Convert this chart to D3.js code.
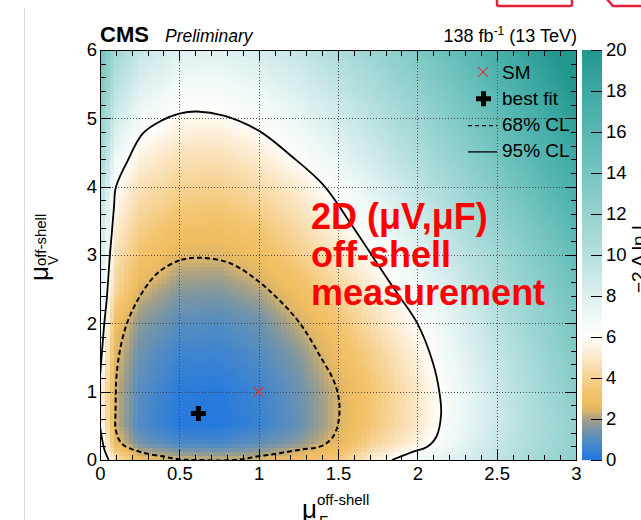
<!DOCTYPE html>
<html>
<head>
<meta charset="utf-8">
<script src="https://cdn.jsdelivr.net/npm/d3@7"></script>
<style>
  html, body { margin: 0; padding: 0; background: #fff; }
  svg { display: block; font-family: "Liberation Sans", Arial, Helvetica, sans-serif; }
</style>
</head>
<body>
<svg id="chart" width="641" height="520"></svg>
<script>
// ---- likelihood scan: -2 Δ ln L on a (μF, μV) grid ----
const muFNodes = [0, 0.1, 0.25, 0.5, 0.75, 1, 1.25, 1.5, 1.75, 2, 2.25, 2.5, 2.75, 3];
const muVNodes = [0, 0.25, 0.5, 1, 1.5, 2, 2.5, 3, 3.5, 4, 4.5, 5, 5.5, 6];
// one row per μV node, one value per μF node
const nllRows = [
  [7.5, 4.6, 2.8, 2.35, 2.3, 2.4, 2.9, 3.6, 5.5, 6.8, 8.0, 9.5, 11.0, 12.5],
  [6.7, 2.7, 1.4, 0.8, 0.75, 1.1, 1.7, 2.6, 4.2, 5.5, 7.3, 9.0, 10.7, 12.2],
  [6.0, 2.3, 0.9, 0.15, 0.1, 0.5, 1.2, 2.35, 3.7, 5.0, 7.0, 8.8, 10.5, 12.0],
  [5.6, 2.3, 1.0, 0.25, 0.15, 0.55, 1.3, 2.35, 3.6, 5.0, 6.9, 8.8, 10.8, 12.8],
  [6.5, 2.5, 1.3, 0.55, 0.5, 0.9, 1.6, 2.8, 4.0, 5.4, 7.3, 9.2, 11.2, 13.2],
  [7.3, 2.9, 1.7, 1.05, 0.95, 1.3, 2.25, 3.3, 4.7, 6.0, 7.8, 9.8, 11.8, 13.8],
  [7.6, 4.2, 2.45, 1.7, 1.65, 2.1, 3.0, 4.1, 5.4, 6.8, 8.5, 10.4, 12.4, 14.4],
  [8.5, 4.7, 3.3, 2.5, 2.45, 2.9, 3.8, 4.9, 6.2, 7.7, 9.4, 11.2, 13.2, 15.2],
  [9.3, 5.4, 4.0, 3.25, 3.2, 3.6, 4.5, 5.6, 7.0, 8.6, 10.3, 12.2, 14.2, 16.2],
  [10.2, 6.0, 4.7, 4.0, 3.95, 4.4, 5.2, 6.5, 7.9, 9.5, 11.3, 13.2, 15.2, 17.2],
  [11.2, 7.3, 5.6, 4.8, 4.75, 5.3, 6.3, 7.5, 8.9, 10.5, 12.3, 14.2, 16.2, 18.2],
  [12.3, 8.6, 6.9, 5.8, 5.8, 6.4, 7.3, 8.5, 9.9, 11.5, 13.3, 15.2, 17.2, 19.2],
  [13.4, 9.9, 8.1, 6.9, 6.8, 7.4, 8.3, 9.5, 10.9, 12.5, 14.3, 16.2, 18.2, 20.2],
  [14.5, 11.2, 9.3, 8.0, 7.9, 8.4, 9.3, 10.5, 11.9, 13.5, 15.3, 17.2, 19.2, 21.0]
];

// 68% CL contour (closed), [μF, μV]
const contour68 = [
  [0.63, 2.96], [0.50, 2.92], [0.36, 2.73], [0.25, 2.39], [0.17, 2.00], [0.126, 1.61],
  [0.105, 1.25], [0.10, 1.00], [0.098, 0.70], [0.10, 0.44], [0.137, 0.24], [0.25, 0.12],
  [0.40, 0.05], [0.50, 0.01], [0.60, 0.0], [0.85, 0.0], [0.99, 0.05], [1.13, 0.10],
  [1.26, 0.15], [1.39, 0.20], [1.45, 0.29], [1.49, 0.44], [1.51, 0.78], [1.48, 1.12],
  [1.39, 1.51], [1.26, 2.00], [1.13, 2.34], [0.99, 2.63], [0.82, 2.88]
];
// 95% CL contour, main branch and the branch cutting the origin corner
const contour95 = [
  [0.0, 1.22], [0.013, 1.60], [0.027, 2.00], [0.042, 2.34], [0.063, 3.02], [0.074, 3.31],
  [0.088, 3.70], [0.10, 3.99], [0.17, 4.36], [0.27, 4.78], [0.39, 4.97], [0.50, 5.07],
  [0.61, 5.10], [0.78, 5.04], [1.00, 4.82], [1.20, 4.46], [1.41, 4.02], [1.58, 3.46],
  [1.76, 2.83], [1.87, 2.45], [2.00, 2.00], [2.10, 1.41], [2.14, 0.98], [2.15, 0.68],
  [2.12, 0.34], [2.06, 0.19], [1.97, 0.12], [1.84, 0.0]
];
const contour95Corner = [[0.0, 0.49], [0.012, 0.32], [0.028, 0.15], [0.055, 0.0]];

const bestFit = [0.62, 0.68];
const smPoint = [1, 1];

const xTicks = [0, 0.5, 1, 1.5, 2, 2.5, 3];
const yTicks = [0, 1, 2, 3, 4, 5, 6];
const zTicks = [0, 2, 4, 6, 8, 10, 12, 14, 16, 18, 20];

// palette: value stops and colours
const zStops  = [0, 0.5, 1, 1.5, 2, 2.4, 2.8, 3.4, 4, 5, 6, 7, 8, 10, 12, 14, 16, 18, 20];
const zColors = ["#1f77e0", "#3a82d2", "#568dc0", "#7895a6", "#a8a184", "#dcb56a",
                 "#efbd60", "#f3c570", "#f6d293", "#fbe8c8", "#fffdf9", "#eff9f8",
                 "#dcf0ef", "#b5e0de", "#95d2cf", "#76c5c1", "#58b7b2", "#3fa9a3", "#22978e"];

const legendItems = [
  { label: "SM", kind: "sm" },
  { label: "best fit", kind: "fit" },
  { label: "68% CL", kind: "dash" },
  { label: "95% CL", kind: "solid" }
];
const noteLines = ["2D (μV,μF)", "off-shell", "measurement"];

// ---- layout ----
const L = 100, R = 576, T = 50, B = 460;
const x = d3.scaleLinear([0, 3], [L, R]);
const y = d3.scaleLinear([0, 6], [B, T]);
const z = d3.scaleLinear([0, 20], [B, T]);
const color = d3.scaleLinear().domain(zStops).range(zColors)
  .interpolate(d3.interpolateRgb).clamp(true);

const svg = d3.select("#chart");
svg.append("rect").attr("width", 641).attr("height", 520).attr("fill", "#fff");

// page-edge decorations
svg.append("line").attr("x1", 24.5).attr("x2", 24.5).attr("y1", 8).attr("y2", 520)
  .attr("stroke", "#dcdcdc").attr("stroke-width", 1);
svg.append("rect").attr("x", 497).attr("y", -8).attr("width", 75).attr("height", 14)
  .attr("rx", 2).attr("fill", "none").attr("stroke", "#e8203a").attr("stroke-width", 2.5);
svg.append("path").attr("d", "M606,-2 L613,6 L645,6").attr("fill", "none")
  .attr("stroke", "#e8203a").attr("stroke-width", 2.5);

// ---- heat map ----
const rowScales = nllRows.map(r => d3.scaleLinear().domain(muFNodes).range(r));
const vIndex = d3.scaleLinear().domain(muVNodes).range(d3.range(muVNodes.length));
function nll(f, v) {
  const iv = vIndex(v);
  const k = Math.max(0, Math.min(muVNodes.length - 2, Math.floor(iv)));
  return d3.interpolateNumber(rowScales[k](f), rowScales[k + 1](f))(iv - k);
}
const nBinsF = 100, nBinsV = 100;
const canvas = document.createElement("canvas");
canvas.width = R - L; canvas.height = B - T;
const ctx = canvas.getContext("2d");
for (let i = 0; i < nBinsF; i++) {
  const f0 = 3 * i / nBinsF, f1 = 3 * (i + 1) / nBinsF;
  const px0 = Math.round(x(f0)) - L, px1 = Math.round(x(f1)) - L;
  for (let j = 0; j < nBinsV; j++) {
    const v0 = 6 * j / nBinsV, v1 = 6 * (j + 1) / nBinsV;
    const py0 = Math.round(y(v1)) - T, py1 = Math.round(y(v0)) - T;
    ctx.fillStyle = color(nll((f0 + f1) / 2, (v0 + v1) / 2));
    ctx.fillRect(px0, py0, px1 - px0, py1 - py0);
  }
}
svg.append("image").attr("x", L).attr("y", T).attr("width", R - L).attr("height", B - T)
  .attr("preserveAspectRatio", "none").attr("href", canvas.toDataURL());

// ---- dotted grid ----
const grid = svg.append("g").attr("stroke", "#3a3a3a").attr("stroke-width", 1)
  .attr("stroke-dasharray", "1,2").attr("opacity", 0.85);
grid.selectAll(".gx").data(xTicks.slice(1, -1)).join("line")
  .attr("x1", d => Math.round(x(d)) + 0.5).attr("x2", d => Math.round(x(d)) + 0.5)
  .attr("y1", T).attr("y2", B);
grid.selectAll(".gy").data(yTicks.slice(1, -1)).join("line")
  .attr("y1", d => Math.round(y(d)) + 0.5).attr("y2", d => Math.round(y(d)) + 0.5)
  .attr("x1", L).attr("x2", R);

// ---- contours ----
svg.append("clipPath").attr("id", "plotClip").append("rect")
  .attr("x", L).attr("y", T).attr("width", R - L).attr("height", B - T);
const cg = svg.append("g").attr("clip-path", "url(#plotClip)").attr("fill", "none").attr("stroke", "#000");
const lineOpen = d3.line().x(d => x(d[0])).y(d => y(d[1])).curve(d3.curveCatmullRom.alpha(0.5));
const lineClosed = d3.line().x(d => x(d[0])).y(d => y(d[1])).curve(d3.curveCatmullRomClosed.alpha(0.5));
cg.append("path").attr("d", lineClosed(contour68)).attr("stroke-width", 2)
  .attr("stroke-dasharray", "5,3");
cg.append("path").attr("d", lineOpen(contour95)).attr("stroke-width", 1.8);
cg.append("path").attr("d", lineOpen(contour95Corner)).attr("stroke-width", 1.8);

// ---- markers ----
const fitSymbol = d3.symbol(d3.symbolCross, 125);
const smSymbol = d3.symbol(d3.symbolTimes, 64);
svg.append("path").attr("d", fitSymbol()).attr("fill", "#000")
  .attr("transform", `translate(${x(bestFit[0])},${y(bestFit[1])})`);
svg.append("path").attr("d", smSymbol()).attr("fill", "none").attr("stroke", "#d9383a")
  .attr("stroke-width", 1.3)
  .attr("transform", `translate(${x(smPoint[0])},${y(smPoint[1])})`);

// ---- axes (ticks inside the frame, ROOT style) ----
const fmt = d3.format("~g");
const minorX = d3.range(0, 31).map(d => d / 10).filter(d => Math.abs(d * 2 - Math.round(d * 2)) > 1e-6);
const minorY = d3.range(0, 31).map(d => d / 5).filter(d => Math.abs(d - Math.round(d)) > 1e-6);
function styleAxis(g, fs) {
  g.select(".domain").remove();
  g.selectAll("line").attr("stroke", "#000").attr("shape-rendering", "crispEdges");
  g.selectAll("text").attr("font-size", fs).attr("fill", "#000")
    .attr("font-family", "'Liberation Sans', Arial, Helvetica, sans-serif");
  g.attr("font-family", null).attr("font-size", null);
}
const axes = svg.append("g");
axes.append("g").attr("transform", `translate(0,${B})`)
  .call(d3.axisBottom(x).tickValues(xTicks).tickSizeInner(-11).tickSizeOuter(0).tickPadding(7).tickFormat(fmt))
  .call(g => styleAxis(g, 18.5));
axes.append("g").attr("transform", `translate(0,${B})`)
  .call(d3.axisBottom(x).tickValues(minorX).tickSizeInner(-5.5).tickSizeOuter(0).tickFormat(""))
  .call(g => styleAxis(g, 0));
axes.append("g").attr("transform", `translate(0,${T})`)
  .call(d3.axisTop(x).tickValues(xTicks).tickSizeInner(-11).tickSizeOuter(0).tickFormat(""))
  .call(g => styleAxis(g, 0));
axes.append("g").attr("transform", `translate(0,${T})`)
  .call(d3.axisTop(x).tickValues(minorX).tickSizeInner(-5.5).tickSizeOuter(0).tickFormat(""))
  .call(g => styleAxis(g, 0));
axes.append("g").attr("transform", `translate(${L},0)`)
  .call(d3.axisLeft(y).tickValues(yTicks).tickSizeInner(-11).tickSizeOuter(0).tickPadding(3).tickFormat(fmt))
  .call(g => styleAxis(g, 18.5));
axes.append("g").attr("transform", `translate(${L},0)`)
  .call(d3.axisLeft(y).tickValues(minorY).tickSizeInner(-5.5).tickSizeOuter(0).tickFormat(""))
  .call(g => styleAxis(g, 0));
axes.append("g").attr("transform", `translate(${R},0)`)
  .call(d3.axisRight(y).tickValues(yTicks).tickSizeInner(-11).tickSizeOuter(0).tickFormat(""))
  .call(g => styleAxis(g, 0));
axes.append("g").attr("transform", `translate(${R},0)`)
  .call(d3.axisRight(y).tickValues(minorY).tickSizeInner(-5.5).tickSizeOuter(0).tickFormat(""))
  .call(g => styleAxis(g, 0));
svg.append("rect").attr("x", L).attr("y", T).attr("width", R - L).attr("height", B - T)
  .attr("fill", "none").attr("stroke", "#000").attr("stroke-width", 1).attr("shape-rendering", "crispEdges");

// ---- colour bar ----
const CB0 = 582, CB1 = 602;
svg.append("g").selectAll("rect").data(d3.range(T, B)).join("rect")
  .attr("x", CB0).attr("width", CB1 - CB0).attr("y", d => d).attr("height", 1.2)
  .attr("fill", d => color(z.invert(d + 0.5)));
svg.append("g").attr("transform", `translate(${CB1},0)`)
  .call(d3.axisRight(z).tickValues(zTicks).tickSizeInner(-11).tickSizeOuter(0).tickPadding(4).tickFormat(fmt))
  .call(g => styleAxis(g, 18.5));
svg.append("text").attr("transform", "translate(645,293) rotate(-90)")
  .attr("font-size", 19).attr("fill", "#000").text("−2 Δ ln L");

// ---- axis titles ----
const xt = svg.append("text").attr("x", 302).attr("y", 518).attr("fill", "#000");
xt.append("tspan").attr("font-size", 26).text("μ");
xt.append("tspan").attr("font-size", 15).attr("dy", -13).text("off-shell");
xt.append("tspan").attr("font-size", 15).attr("x", 319).attr("dy", 21).text("F");

const yt = svg.append("text").attr("transform", "translate(48,281) rotate(-90)").attr("fill", "#000");
yt.append("tspan").attr("font-size", 26).text("μ");
yt.append("tspan").attr("font-size", 15).attr("dy", -2.5).text("off-shell");
yt.append("tspan").attr("font-size", 14).attr("x", 16).attr("dy", 12).text("V");

// ---- header ----
svg.append("text").attr("x", 100).attr("y", 42).attr("font-size", 22).attr("font-weight", "bold")
  .attr("fill", "#000").text("CMS");
svg.append("text").attr("x", 165).attr("y", 42).attr("font-size", 17.5).attr("font-style", "italic")
  .attr("fill", "#000").text("Preliminary");
const lumi = svg.append("text").attr("x", 577).attr("y", 42).attr("text-anchor", "end")
  .attr("font-size", 18).attr("fill", "#000");
lumi.append("tspan").text("138 fb");
lumi.append("tspan").attr("font-size", 12).attr("dy", -7).text("-1");
lumi.append("tspan").attr("dy", 7).text(" (13 TeV)");

// ---- legend ----
const lg = svg.append("g");
legendItems.forEach((d, i) => {
  const by = 78.5 + i * 26.3;
  lg.append("text").attr("x", 502).attr("y", by).attr("font-size", 19).attr("fill", "#000").text(d.label);
  const cy = by - 6.5;
  if (d.kind === "sm") {
    lg.append("path").attr("d", smSymbol()).attr("fill", "none").attr("stroke", "#d9383a")
      .attr("stroke-width", 1.3).attr("transform", `translate(483,${cy})`);
  } else if (d.kind === "fit") {
    lg.append("path").attr("d", fitSymbol()).attr("fill", "#000").attr("transform", `translate(483.5,${cy + 0.5})`);
  } else {
    lg.append("line").attr("x1", 468).attr("x2", 497).attr("y1", cy + 1).attr("y2", cy + 1)
      .attr("stroke", "#000").attr("stroke-width", 1.3)
      .attr("stroke-dasharray", d.kind === "dash" ? "4,3" : null);
  }
});

// ---- annotation ----
svg.append("g").selectAll("text").data(noteLines).join("text")
  .attr("x", 311).attr("y", (d, i) => 229 + i * 38)
  .attr("font-size", 36).attr("font-weight", "bold").attr("fill", "#ff0000")
  .text(d => d);
</script>
</body>
</html>
